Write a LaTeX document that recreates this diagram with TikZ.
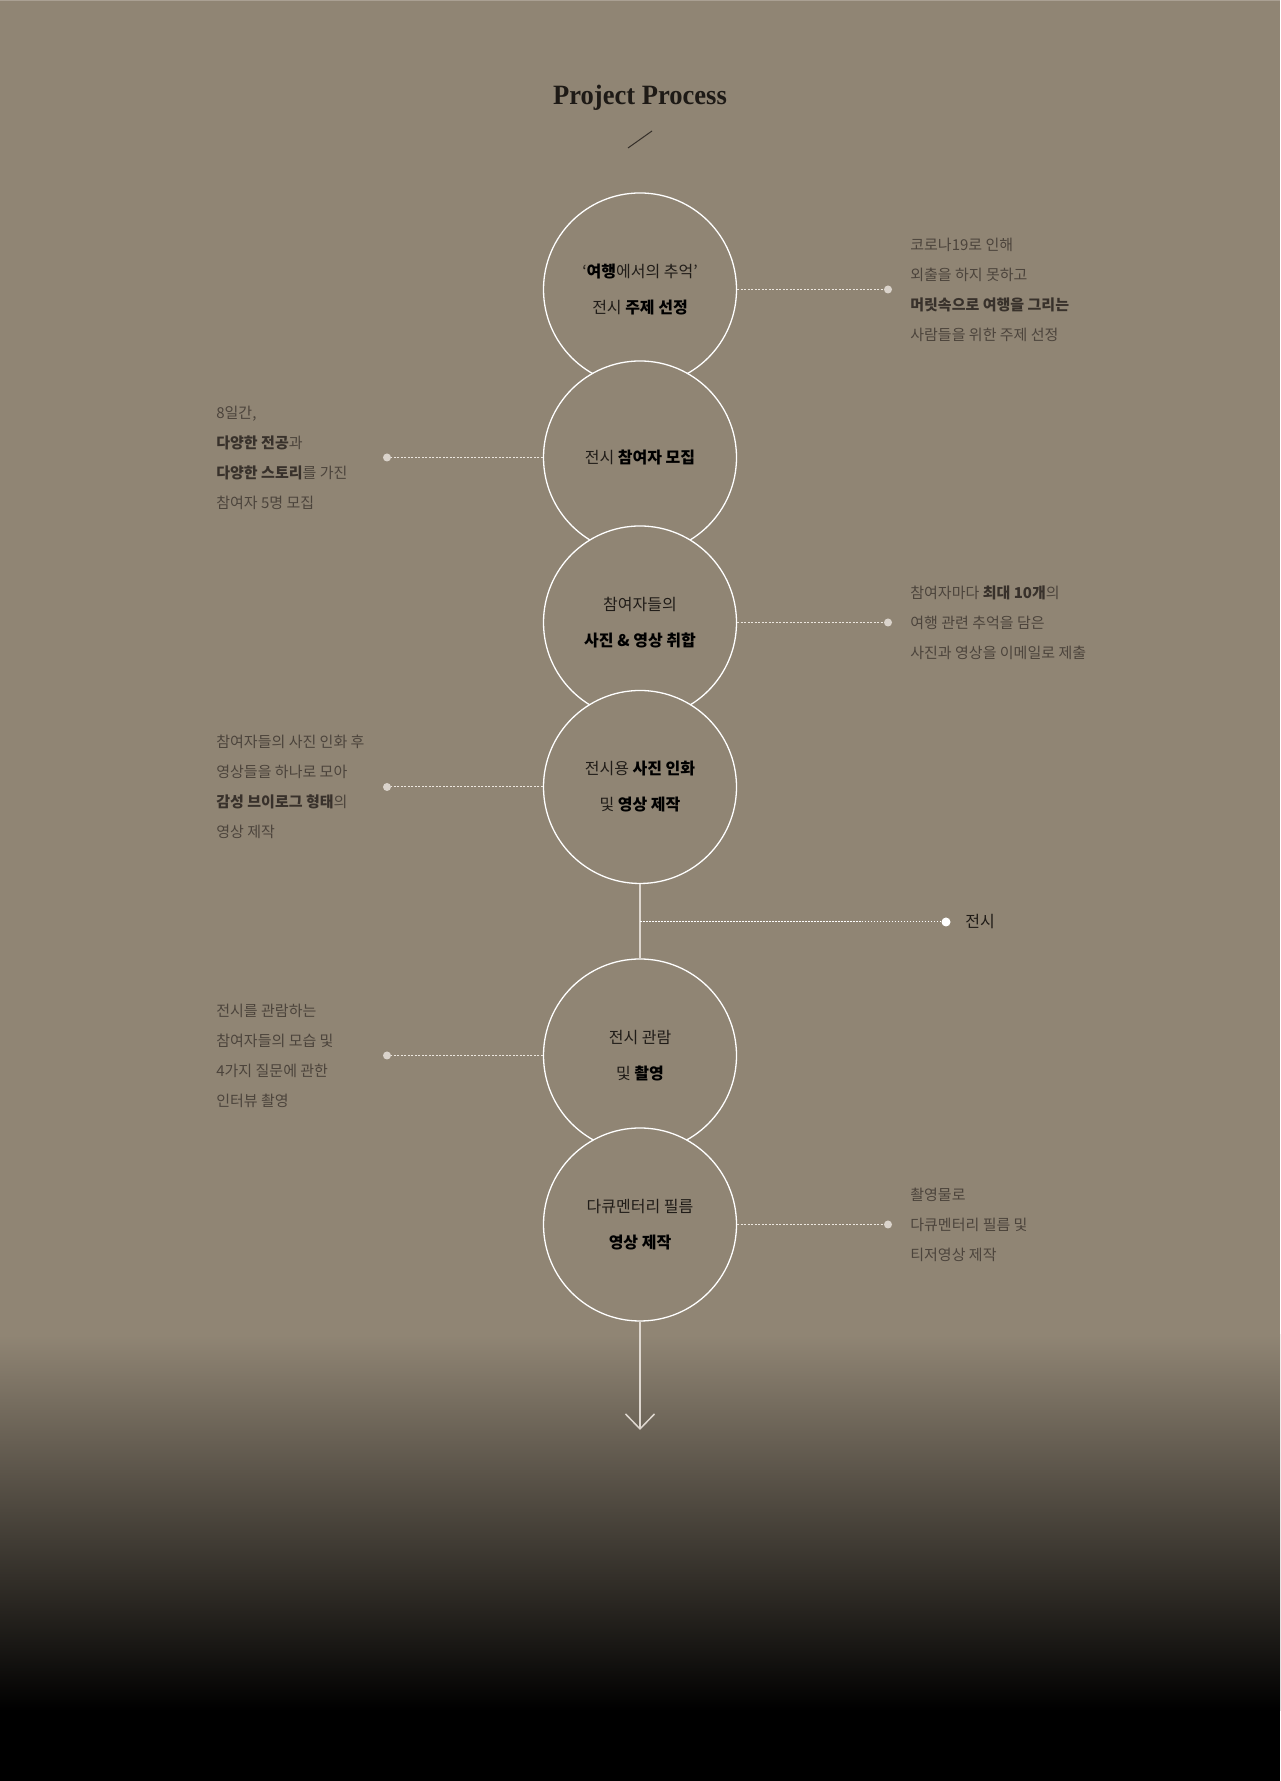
\documentclass[tikz,border=0pt]{standalone}
\usepackage{fontspec}
\newfontfamily\krfont{Noto Sans CJK KR}
\newfontfamily\titlefont{Liberation Serif}
\usetikzlibrary{arrows.meta}

\definecolor{bgtone}{RGB}{144,133,116}
\definecolor{edgetone}{RGB}{170,160,147}
\definecolor{titletone}{RGB}{30,26,22}
\definecolor{stagetext}{RGB}{32,28,24}
\definecolor{notetext}{RGB}{76,68,60}
\definecolor{notebold}{RGB}{56,49,43}
\definecolor{dotgrey}{RGB}{218,211,203}
\definecolor{linegrey}{RGB}{236,230,222}
\definecolor{flowgrey}{RGB}{222,215,207}

\newcommand{\stagebf}[1]{{\bfseries\color{black}#1}}
\newcommand{\notebf}[1]{{\bfseries\color{notebold}#1}}

\tikzset{
  stage/.style={circle, draw=white, fill=bgtone, line width=0.026cm,
    minimum size=3.86cm, inner sep=0pt, align=center, text=stagetext,
    font=\krfont\fontsize{9.1}{20.5}\selectfont},
  note/.style={align=left, inner sep=0pt, text=notetext,
    font=\krfont\fontsize{8.54}{17.07}\selectfont},
  notedot/.style={circle, fill=dotgrey, minimum size=0.16cm, inner sep=0pt},
  dotline/.style={draw=linegrey, line width=0.02cm, dash pattern=on 0.04cm off 0.03cm},
  flowline/.style={draw=flowgrey, line width=0.03cm}
}

\begin{document}
\begin{tikzpicture}
        \useasboundingbox (0,0) rectangle (25.6,35.62);

        % Background with dark fade at the bottom
        \fill [bgtone] (0,8.90) rectangle (25.6,35.62);%
        \shade [top color=bgtone, bottom color=black] (0,1.40) rectangle (25.6,8.92);%
        \fill [black] (0,0) rectangle (25.6,1.42);%
        \draw [edgetone, line width=0.04cm] (0,35.62) -- (25.6,35.62);%

        % Title and slash
        \node [anchor=base, text=titletone, xscale=0.95, transform shape,
          font=\titlefont\bfseries\fontsize{15.9}{18}\selectfont] (title) at (12.8,33.52) {Project Process};%
        \draw [titletone!80!bgtone, line width=0.02cm] (12.56,32.66) -- (13.04,33.00);%

        % Stages, each drawn over the one above
        \node [stage] (s1) at (12.8,29.83) {‘\stagebf{여행}에서의 추억’\\전시 \stagebf{주제 선정}};%
        \node [stage] (s2) at (12.8,26.47) {전시 \stagebf{참여자 모집}};%
        \node [stage] (s3) at (12.8,23.17) {참여자들의\\\stagebf{사진 \& 영상 취합}};%
        \node [stage] (s4) at (12.8,19.88) {전시용 \stagebf{사진 인화}\\및 \stagebf{영상 제작}};%
        \node [stage] (s5) at (12.8,14.51) {전시 관람\\및 \stagebf{촬영}};%
        \node [stage] (s6) at (12.8,11.13) {다큐멘터리 필름\\\stagebf{영상 제작}};%

        % Marking dots beside the stages
        \node [notedot] (d1) at (17.76,29.83) {};%
        \node [notedot] (d2) at (7.74,26.47) {};%
        \node [notedot] (d3) at (17.76,23.17) {};%
        \node [notedot] (d4) at (7.74,19.88) {};%
        \node [notedot] (d5) at (7.74,14.51) {};%
        \node [notedot] (d6) at (17.76,11.13) {};%

        % Drawing dotted connectors
        \draw [dotline] (s1) -- (d1);%
        \draw [dotline] (s2) -- (d2);%
        \draw [dotline] (s3) -- (d3);%
        \draw [dotline] (s4) -- (d4);%
        \draw [dotline] (s5) -- (d5);%
        \draw [dotline] (s6) -- (d6);%

        % Notes
        \node [note, anchor=west] (n1) at (18.20,29.83) {코로나19로 인해\\외출을 하지 못하고\\\notebf{머릿속으로 여행을 그리는}\\사람들을 위한 주제 선정};%
        \node [note, anchor=west] (n2) at (4.32,26.47) {8일간,\\\notebf{다양한 전공}과\\\notebf{다양한 스토리}를 가진\\참여자 5명 모집};%
        \node [note, anchor=west] (n3) at (18.20,23.17) {참여자마다 \notebf{최대 10개}의\\여행 관련 추억을 담은\\사진과 영상을 이메일로 제출};%
        \node [note, anchor=west] (n4) at (4.32,19.88) {참여자들의 사진 인화 후\\영상들을 하나로 모아\\\notebf{감성 브이로그 형태}의\\영상 제작};%
        \node [note, anchor=west] (n5) at (4.32,14.51) {전시를 관람하는\\참여자들의 모습 및\\4가지 질문에 관한\\인터뷰 촬영};%
        \node [note, anchor=west] (n6) at (18.20,11.13) {촬영물로\\다큐멘터리 필름 및\\티저영상 제작};%

        % Exhibition branch between stage 4 and 5
        \draw [flowline] (s4) -- (s5);%
        \coordinate (j) at (12.8,17.18);%
        \node [circle, fill=white, minimum size=0.18cm, inner sep=0pt] (ex) at (18.92,17.18) {};%
        \node [anchor=west, text=titletone, inner sep=0pt,
          font=\krfont\fontsize{9.1}{10}\selectfont] (exlabel) at (19.30,17.18) {전시};%
        \draw [draw=white, line width=0.02cm, dash pattern=on 0.03cm off 0.03cm] (j) -- (ex);%

        % Arrow out of the last stage
        \coordinate (end) at (12.8,7.02);%
        \draw [flowline, -{Straight Barb[length=0.3cm, width=0.58cm]}] (s6) -- (end);%
    \end{tikzpicture}
\end{document}
